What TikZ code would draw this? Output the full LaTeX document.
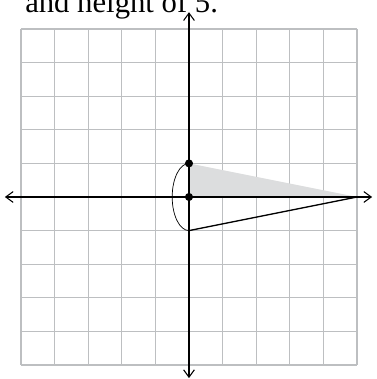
\documentclass[tikz,border=0pt]{standalone}
\usepackage{fontspec}
\setmainfont{Liberation Serif}
\usepackage{tikz}
\usetikzlibrary{arrows.meta,positioning}
\definecolor{GridGray}{HTML}{BDBFC1}
\definecolor{ShadeGray}{HTML}{DCDDDE}
\tikzset{
    % Grid lines
    gridline/.style={
        draw=GridGray,
        line width=1.1pt
    },
    % Axis with arrows at both ends
    axisline/.style={
        {Straight Barb[length=2.2mm,width=3.2mm]}-{Straight Barb[length=2.2mm,width=3.2mm]},
        line width=0.9pt,
        draw=black
    },
    % Triangle edges
    edgeline/.style={
        line width=1.1pt,
        draw=black
    },
    % Thick edges on the axes
    thickedge/.style={
        line width=2pt,
        draw=black
    },
    % Point marker
    dotnode/.style={
        circle,
        fill=black,
        inner sep=0pt,
        minimum size=2.4mm
    }
}
\begin{document}
\begin{tikzpicture}
    \useasboundingbox (-5.625,-5.417) rectangle (5.595,5.863);
    % caption (cut off at the top)
    \node[anchor=base west, inner sep=0pt, font=\fontsize{26}{30}\selectfont] (caption) at (-4.88,5.50) {and height of 5.};
    % grid
    \draw[gridline] (-5,-5) grid (5,5);
    % shaded triangle
    \coordinate (top) at (0,1);
    \coordinate (origin) at (0,0);
    \coordinate (bottom) at (0,-1);
    \coordinate (apex) at (5,0);
    \fill[ShadeGray] (top) -- (apex) -- (origin) -- cycle;
    % axes
    \coordinate (xleft) at (-5.48,0);
    \coordinate (xright) at (5.45,0);
    \coordinate (ytop) at (0,5.5);
    \coordinate (ybottom) at (0,-5.39);
    \draw[axisline] (xleft) -- (xright);
    \draw[axisline] (ybottom) -- (ytop);
    % cone outline
    \draw[thickedge] (top) -- (bottom);
    \draw[thickedge] (origin) -- (apex);
    \draw[edgeline] (bottom) -- (apex);
    \draw[line width=0.6pt] (top) arc[start angle=90, end angle=270, x radius=0.5, y radius=1];
    \node[dotnode] (ptop) at (top) {};
    \node[dotnode] (porigin) at (origin) {};
\end{tikzpicture}
\end{document}
